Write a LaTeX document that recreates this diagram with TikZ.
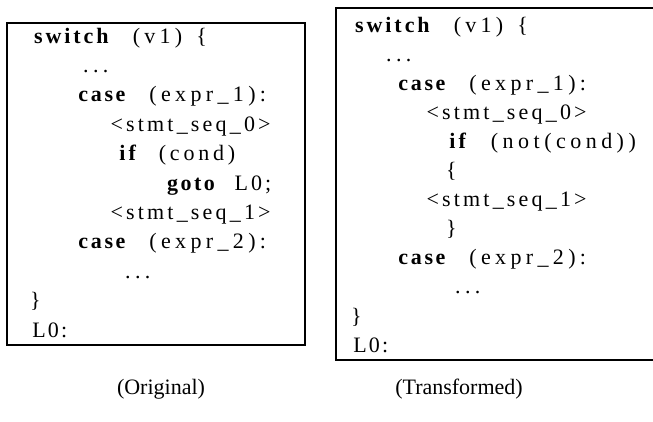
\documentclass[tikz,border=0pt]{standalone}
\usepackage{fontspec}
\setmainfont{Liberation Serif}
\usepackage{tikz}
\newlength\cellw
\setlength\cellw{14.4pt}
\ExplSyntaxOn
\NewDocumentCommand\cols{m}{\makebox[\tl_count:n{#1}\cellw]{\tl_map_inline:nn{#1}{\hss##1}\hss}}
\ExplSyntaxOff
\newcommand\kw[1]{{\bfseries\cols{#1}}}
\tikzset{codeline/.style={anchor=base west,inner sep=0pt,font=\fontsize{22}{26}\selectfont},
	 frame/.style={draw,line width=1.5pt},
	 caption/.style={anchor=base,inner sep=0pt,font=\fontsize{22}{26}\selectfont}
	 }

\begin{document}
\begin{tikzpicture}[x=1pt,y=-1pt] % switch with goto, before and after
	\useasboundingbox (0,0) rectangle (653,421);
	% original
	\draw[frame] (7,23) rectangle (305,345);
	\node[codeline] (o1) at (28,43) {\kw{switch}\cols{~(v1)~\{}};
	\node[codeline] (o2) at (74,72.4) {\cols{...}};
	\node[codeline] (o3) at (73,101.8) {\kw{case}\cols{~(expr\_1):}};
	\node[codeline] (o4) at (104,131.2) {\cols{<stmt\_seq\_0>}};
	\node[codeline] (o5) at (113,160.6) {\kw{if}\cols{~(cond)}};
	\node[codeline] (o6) at (162,190) {\kw{goto}\cols{~L0;}};
	\node[codeline] (o7) at (104,219.4) {\cols{<stmt\_seq\_1>}};
	\node[codeline] (o8) at (73,248.8) {\kw{case}\cols{~(expr\_2):}};
	\node[codeline] (o9) at (116,278.2) {\cols{...}};
	\node[codeline] (o10) at (28,307.6) {\cols{\}}};
	\node[codeline] (o11) at (28,337) {\cols{L0:}};
	% transformed
	\draw[frame] (336,8) rectangle (656,360);
	\node[codeline] (t1) at (349,32) {\kw{switch}\cols{~(v1)~\{}};
	\node[codeline] (t2) at (377,61.1) {\cols{...}};
	\node[codeline] (t3) at (393,90.2) {\kw{case}\cols{~(expr\_1):}};
	\node[codeline] (t4) at (420,119.3) {\cols{<stmt\_seq\_0>}};
	\node[codeline] (t5) at (443,148.4) {\kw{if}\cols{~(not(cond))}};
	\node[codeline] (t6) at (444,177.5) {\cols{\{}};
	\node[codeline] (t7) at (420,206.6) {\cols{<stmt\_seq\_1>}};
	\node[codeline] (t8) at (444,235.7) {\cols{\}}};
	\node[codeline] (t9) at (393,264.8) {\kw{case}\cols{~(expr\_2):}};
	\node[codeline] (t10) at (446,293.9) {\cols{...}};
	\node[codeline] (t11) at (349,323) {\cols{\}}};
	\node[codeline] (t12) at (349,352) {\cols{L0:}};
	% captions
	\node[caption] (capo) at (161,394) {(Original)};
	\node[caption] (capt) at (459,394) {(Transformed)};
\end{tikzpicture}
\end{document}
